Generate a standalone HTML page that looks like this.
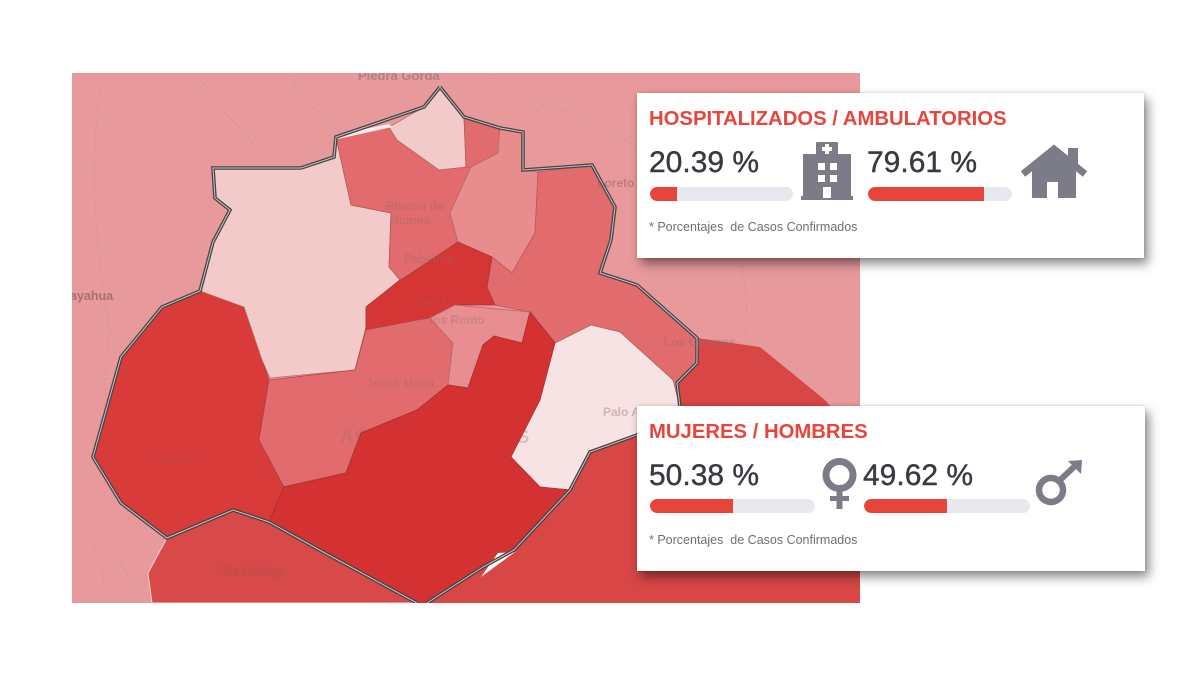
<!DOCTYPE html>
<html>
<head>
<meta charset="utf-8">
<style>
  html,body{margin:0;padding:0;background:#ffffff;}
  body{width:1200px;height:674px;position:relative;overflow:hidden;font-family:"Liberation Sans",Arial,sans-serif;}
  .card{position:absolute;background:#fff;box-shadow:4px 6px 10px rgba(0,0,0,0.45),0 0 3px rgba(0,0,0,0.15);}
  .t{position:absolute;white-space:nowrap;}
  .title{color:#e8453c;font-weight:bold;font-size:20.3px;line-height:20.3px;}
  .num{color:#373a41;font-size:30px;line-height:30px;-webkit-text-stroke:0.4px #373a41;}
  .foot{color:#6e7077;font-size:12.5px;line-height:12.5px;}
  .track{position:absolute;background:#e8e9ee;border-radius:7px;height:14px;overflow:hidden;}
  .fill{position:absolute;left:0;top:0;height:14px;background:#e8453a;border-radius:7px 0 0 7px;}
</style>
</head>
<body>

<svg width="1200" height="674" viewBox="0 0 1200 674" style="position:absolute;left:0;top:0;">
  <defs>
    <clipPath id="mc"><rect x="72" y="73" width="788" height="530"/></clipPath>
  </defs>
  <g clip-path="url(#mc)">
    <rect x="72" y="73" width="788" height="530" fill="#e8999b"/>
    <!-- faint background roads -->
    <g fill="none" stroke="#b77476" stroke-width="1" stroke-dasharray="2,3" opacity="0.3">
      <path d="M100 90 Q85 200 110 330 Q95 420 130 520"/>
      <path d="M200 80 Q230 120 260 150"/>
      <path d="M290 75 Q300 100 330 120 Q340 140 365 140"/>
      <path d="M490 75 Q520 100 560 110 Q600 120 640 150"/>
      <path d="M740 85 Q760 120 790 140"/>
      <path d="M740 260 Q750 300 745 350"/>
      <path d="M90 540 Q110 570 100 600"/>
      <path d="M120 560 Q135 590 140 603"/>
    </g>

    <!-- outer dark/red region (south-east) -->
    <polygon fill="#d84646" points="697,338 760,347 825,400 860,440 860,603 427,603 483,567 514,550 570,490 590,452 637,435 680,420 680,407 677,383 697,363"/>
    <!-- Villa Hidalgo -->
    <polygon fill="#d84949" stroke="#f3cfcf" stroke-width="1" points="167,538 233,510 269,522 325,553 420,603 152,603 148,573"/>

    <!-- West dark (Calvillo) -->
    <polygon fill="#d93a3a" stroke="#a83a3a" stroke-width="0.8" points="162,307 200,291 244,307 262,360 269,380 259,440 284,487 269,522 233,510 167,538 121,503 93,457 121,357"/>
    <!-- Large light region -->
    <polygon fill="#f3caca" stroke="#b86a6a" stroke-width="0.8" points="213,168 301,168 334,157 336,137 341,160 351,205 391,213 389,267 400,280 366,307 366,327 355,370 270,378 262,360 244,307 200,291 213,242 230,210 215,198"/>
    <!-- Medium A -->
    <polygon fill="#e26b6d" stroke="#b85a5a" stroke-width="0.8" points="336,137 389,127 397,140 439,170 468,167 471,167 450,213 458,242 404,278 400,280 389,267 391,213 351,205 341,160"/>
    <!-- Light B (peak) -->
    <polygon fill="#f3caca" stroke="#b86a6a" stroke-width="0.8" points="389,127 424,107 440,87 464,117 466,167 439,170 397,140"/>
    <!-- Medium C -->
    <polygon fill="#e26b6d" stroke="#b85a5a" stroke-width="0.8" points="464,117 500,128 498,153 471,167 466,167"/>
    <!-- Light-medium D -->
    <polygon fill="#e98c8e" stroke="#b86a6a" stroke-width="0.8" points="500,128 523,132 523,170 538,172 535,233 512,273 492,257 458,242 450,213 471,167 498,153"/>
    <!-- Medium E -->
    <polygon fill="#e26b6d" stroke="#b85a5a" stroke-width="0.8" points="538,172 592,165 615,207 611,240 600,273 637,285 697,338 697,363 677,383 673,380 620,332 591,325 555,343 530,312 495,305 487,287 492,257 512,273 535,233"/>
    <!-- Dark G1 -->
    <polygon fill="#d63535" stroke="#a83a3a" stroke-width="0.8" points="404,278 458,242 492,257 487,287 495,305 455,305 430,318 417,320 366,330 366,307 400,280"/>
    <!-- Medium M1 (Jesus Maria) -->
    <polygon fill="#e26b6d" stroke="#a84a4a" stroke-width="0.8" points="269,380 355,370 366,330 417,320 430,318 453,343 448,387 417,410 361,433 346,473 284,487 259,440"/>
    <!-- Light-medium H -->
    <polygon fill="#e98e90" stroke="#b86a6a" stroke-width="0.8" points="430,318 455,305 530,312 522,343 494,336 483,345 468,388 448,385 453,343"/>
    <!-- Dark G2 -->
    <polygon fill="#d43232" stroke="#a83232" stroke-width="0.8" points="448,385 468,388 483,345 494,336 522,343 530,312 555,343 540,400 511,457 540,487 570,490 514,550 483,567 427,603 417,603 325,553 269,522 284,487 346,473 361,433 417,410"/>
    <!-- White F -->
    <polygon fill="#f8e3e4" stroke="#a86a6a" stroke-width="0.8" points="555,343 591,325 620,332 673,380 680,407 680,420 637,435 590,452 570,490 540,487 511,457 534,390"/>

    <!-- big city label, partially covered by dark region -->
    <text x="340" y="443" font-family="Liberation Sans, Arial, sans-serif" font-weight="bold" font-size="19" letter-spacing="1" fill="#9a7070" opacity="0.3">AGUASCALIENTES</text>
    <polygon fill="#d43232" stroke="#a83232" stroke-width="0.8" points="448,385 468,388 483,345 494,336 522,343 530,312 555,343 540,400 511,457 540,487 570,490 514,550 483,567 427,603 417,603 325,553 269,522 284,487 346,473 361,433 417,410"/>

    <!-- white wedge -->
    <polygon fill="#ffffff" points="481,577 498,553 515,552"/>
    <!-- white sliver near top -->
    <polygon fill="#ffffff" opacity="0.85" points="336,135 389,124 392,127 338,139"/>

    <!-- State border -->
    <path d="M440,87 L464,117 L500,128 L523,132 L523,170 L592,165 L615,207 L611,240 L600,273 L637,285 L697,338 L697,363 L677,383 L680,407 L680,420 L637,435 L590,452 L570,490 L514,550 L483,567 L427,603 M417,603 L325,553 L269,522 L233,510 L167,538 L121,503 L93,457 L121,357 L162,307 L200,291 L213,242 L230,210 L215,198 L213,168 L301,168 L334,157 L336,137 L424,107 L440,87" fill="none" stroke="#4a4446" stroke-width="3.6" stroke-linejoin="miter"/>
    <path d="M440,87 L464,117 L500,128 L523,132 L523,170 L592,165 L615,207 L611,240 L600,273 L637,285 L697,338 L697,363 L677,383 L680,407 L680,420 L637,435 L590,452 L570,490 L514,550 L483,567 L427,603 M417,603 L325,553 L269,522 L233,510 L167,538 L121,503 L93,457 L121,357 L162,307 L200,291 L213,242 L230,210 L215,198 L213,168 L301,168 L334,157 L336,137 L424,107 L440,87" fill="none" stroke="#c9c3c4" stroke-width="1"/>

    <!-- map labels -->
    <g font-family="Liberation Sans, Arial, sans-serif" font-weight="bold">
      <text x="358" y="80" font-size="13" fill="#8e6f70" opacity="0.6">Piedra Gorda</text>
      <text x="70" y="300" font-size="12.5" fill="#8f5e60" opacity="0.7">ayahua</text>
      <text x="386" y="210" font-size="12" fill="#9a6a6a" opacity="0.35">Rincon de</text>
      <text x="390" y="224" font-size="12" fill="#9a6a6a" opacity="0.35">Romos</text>
      <text x="404" y="263" font-size="12" fill="#9a6a6a" opacity="0.35">Pabellón</text>
      <text x="416" y="306" font-size="12" fill="#9a6a6a" opacity="0.2">San Fr</text>
      <text x="430" y="324" font-size="12" fill="#9a6a6a" opacity="0.35">los Romo</text>
      <text x="366" y="387" font-size="12" fill="#9a6a6a" opacity="0.3">Jesus Maria</text>
      <text x="155" y="462" font-size="12" fill="#9a5050" opacity="0.25">Calvillo</text>
      <text x="603" y="416" font-size="12" fill="#b89596" opacity="0.6">Palo Alto</text>
      <text x="664" y="346" font-size="12" fill="#9a6a6a" opacity="0.4">Los Campos</text>
      <text x="215" y="575" font-size="12" fill="#9a5050" opacity="0.35">Villa Hidalgo</text>
      <text x="597" y="187" font-size="12" fill="#9a6060" opacity="0.5">Loreto</text>
    </g>
  </g>
</svg>

<!-- Card 1 -->
<div class="card" style="left:637px;top:93px;width:507px;height:165px;"></div>
<div class="t title" style="left:649px;top:109px;">HOSPITALIZADOS / AMBULATORIOS</div>
<div class="t num" style="left:649px;top:148px;">20.39 %</div>
<div class="t num" style="left:867px;top:148px;">79.61 %</div>
<div class="track" style="left:650px;top:187px;width:143px;"><div class="fill" style="width:27px;"></div></div>
<div class="track" style="left:868px;top:187px;width:144px;"><div class="fill" style="width:116px;"></div></div>
<div class="t foot" style="left:649px;top:221px;">* Porcentajes &nbsp;de Casos Confirmados</div>

<!-- Card 2 -->
<div class="card" style="left:637px;top:406px;width:508px;height:165px;"></div>
<div class="t title" style="left:649px;top:422px;">MUJERES / HOMBRES</div>
<div class="t num" style="left:649px;top:461px;">50.38 %</div>
<div class="t num" style="left:863px;top:461px;">49.62 %</div>
<div class="track" style="left:650px;top:499px;width:165px;"><div class="fill" style="width:83px;"></div></div>
<div class="track" style="left:864px;top:499px;width:166px;"><div class="fill" style="width:83px;"></div></div>
<div class="t foot" style="left:649px;top:534px;">* Porcentajes &nbsp;de Casos Confirmados</div>

<!-- Icons -->
<svg width="1200" height="674" viewBox="0 0 1200 674" style="position:absolute;left:0;top:0;pointer-events:none;">
  <g fill="#7b7c88">
    <!-- hospital -->
    <rect x="816" y="142" width="22" height="14" rx="1"/>
    <rect x="803" y="154" width="48" height="44"/>
    <rect x="801" y="196" width="52" height="4"/>
  </g>
  <g fill="#ffffff">
    <rect x="825" y="144" width="4" height="10"/>
    <rect x="822" y="147" width="10" height="4"/>
    <rect x="818" y="163" width="7" height="7"/>
    <rect x="830" y="163" width="7" height="7"/>
    <rect x="818" y="175" width="7" height="7"/>
    <rect x="830" y="175" width="7" height="7"/>
    <rect x="823" y="187" width="8" height="11"/>
  </g>
  <!-- house -->
  <g fill="#7b7c88">
    <rect x="1068" y="148" width="10" height="16"/>
    <polygon points="1032,170 1054,152 1076,170 1076,198 1032,198"/>
  </g>
  <polyline points="1023,174 1054,149 1085,174" fill="none" stroke="#7b7c88" stroke-width="7" stroke-linejoin="miter"/>
  <rect x="1047" y="182" width="11" height="16" fill="#ffffff"/>

  <!-- female -->
  <circle cx="839.5" cy="475" r="13.5" fill="none" stroke="#7b7c88" stroke-width="7"/>
  <rect x="836.5" y="488" width="6" height="21" fill="#7b7c88"/>
  <rect x="830" y="496" width="19" height="5" fill="#7b7c88"/>

  <!-- male -->
  <circle cx="1051" cy="490" r="12" fill="none" stroke="#7b7c88" stroke-width="6.5"/>
  <line x1="1059" y1="481" x2="1075" y2="466" stroke="#7b7c88" stroke-width="6"/>
  <polygon points="1068,461 1082,460 1081,474" fill="#7b7c88"/>
</svg>

</body>
</html>
